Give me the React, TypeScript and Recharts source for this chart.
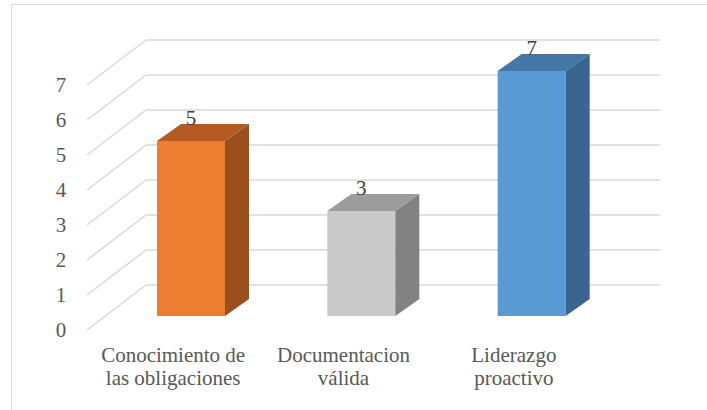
import React from 'react';
import { BarChart, Bar, XAxis, YAxis, CartesianGrid, LabelList, Cell } from 'recharts';

// Categories and counts
const categories = ['Conocimiento de las obligaciones', 'Documentacion válida', 'Liderazgo proactivo'];
const counts = [5, 3, 7];
const yTicks = [0, 1, 2, 3, 4, 5, 6, 7];

// Face colours per bar: front, top, side
const frontColors = ['#ED7D31', '#C9C9C9', '#5B9BD5'];
const topColors = ['#B35B22', '#9C9C9C', '#4477A6'];
const sideColors = ['#9A4F1D', '#828282', '#39658E'];

const data = categories.map((name, i) => ({ name, value: counts[i] }));

const SERIF = 'Liberation Serif';
const GRID = '#d9d9d9';

// Depth of the box extrusion
const DEPTH_X = 24;
const DEPTH_Y = 17;

const wrapWords = (text: string, maxChars: number): string[] => {
  const words = text.split(' ');
  const lines: string[] = [];
  let cur = '';
  words.forEach((w) => {
    const next = cur ? cur + ' ' + w : w;
    if (next.length > maxChars && cur) {
      lines.push(cur);
      cur = w;
    } else {
      cur = next;
    }
  });
  if (cur) lines.push(cur);
  return lines;
};

const Box3D = (props: any) => {
  const { x, y, width, height, index } = props;
  const x2 = x + width;
  const yb = y + height;
  return (
    <g>
      <rect x={x} y={y} width={width} height={height} fill={frontColors[index]} />
      <polygon
        points={`${x},${y} ${x + DEPTH_X},${y - DEPTH_Y} ${x2 + DEPTH_X},${y - DEPTH_Y} ${x2},${y}`}
        fill={topColors[index]}
      />
      <polygon
        points={`${x2},${y} ${x2 + DEPTH_X},${y - DEPTH_Y} ${x2 + DEPTH_X},${yb - DEPTH_Y} ${x2},${yb}`}
        fill={sideColors[index]}
      />
    </g>
  );
};

// Floor/wall gridline: diagonal from the front edge to the back wall, then along the wall
const GridLine3D = (props: any) => {
  const { x1, x2, y1 } = props;
  const frontX = x1 - 19;
  const frontY = y1 + 14;
  const backX = x1 + 40;
  const backY = y1 - 31;
  return (
    <g>
      <line x1={frontX} y1={frontY} x2={backX} y2={backY} stroke={GRID} strokeWidth={1.5} />
      <line x1={backX} y1={backY} x2={x2 + 43} y2={backY} stroke={GRID} strokeWidth={1.5} />
    </g>
  );
};

const YTick = (props: any) => {
  const { x, y, payload } = props;
  return (
    <text className="serif-txt" x={x - 45} y={y + 14} dy="0.35em" textAnchor="middle" fill="#595959" fontSize={21} fontFamily={SERIF}>
      {payload.value}
    </text>
  );
};

const XTick = (props: any) => {
  const { x, y, payload } = props;
  const lines = wrapWords(String(payload.value), 16);
  return (
    <text className="serif-txt" x={x - 18} y={y} textAnchor="middle" fill="#595959" fontSize={21} fontFamily={SERIF}>
      {lines.map((l, i) => (
        <tspan key={i} x={x - 18} y={y + 46 + i * 23}>
          {l}
        </tspan>
      ))}
    </text>
  );
};

const ValueLabel = (props: any) => {
  const { x, width, y, value } = props;
  return (
    <text className="serif-txt" x={x + width / 2} y={y - DEPTH_Y + 1} textAnchor="middle" fill="#404040" fontSize={21} fontFamily={SERIF}>
      {value}
    </text>
  );
};

const css = `
html body #root div.chart3d svg text.serif-txt,
html body #root div.chart3d svg text.serif-txt tspan {
  font-family: 'Liberation Serif', 'Times New Roman', serif !important;
}
`;

export default function App() {
  return (
    <div
      className="chart3d"
      style={{ position: 'absolute', left: 0, top: 0, width: 707, height: 410, overflow: 'hidden', background: '#fff' }}
    >
      <style>{css}</style>
      <div
        style={{
          position: 'absolute',
          left: 11,
          top: 4,
          width: 720,
          height: 420,
          borderLeft: `1.5px solid ${GRID}`,
          borderTop: `1.5px solid ${GRID}`,
        }}
      />
      <div style={{ position: 'absolute', left: 0, top: 0 }}>
        <BarChart width={707} height={410} data={data} margin={{ top: 71, right: 90, bottom: 34, left: 61 }}>
          <CartesianGrid vertical={false} horizontal={(p: any) => <GridLine3D key={p.key} {...p} />} />
          <YAxis
            width={45}
            domain={[0, 7]}
            ticks={yTicks}
            interval={0}
            axisLine={false}
            tickLine={false}
            tickSize={0}
            tickMargin={0}
            tick={<YTick />}
          />
          <XAxis
            dataKey="name"
            height={60}
            axisLine={false}
            tickLine={false}
            tickSize={0}
            tickMargin={0}
            interval={0}
            tick={<XTick />}
          />
          <Bar dataKey="value" barSize={68} isAnimationActive={false} shape={<Box3D />}>
            {data.map((d, i) => (
              <Cell key={d.name} fill={frontColors[i]} />
            ))}
            <LabelList dataKey="value" content={<ValueLabel />} />
          </Bar>
        </BarChart>
      </div>
    </div>
  );
}
